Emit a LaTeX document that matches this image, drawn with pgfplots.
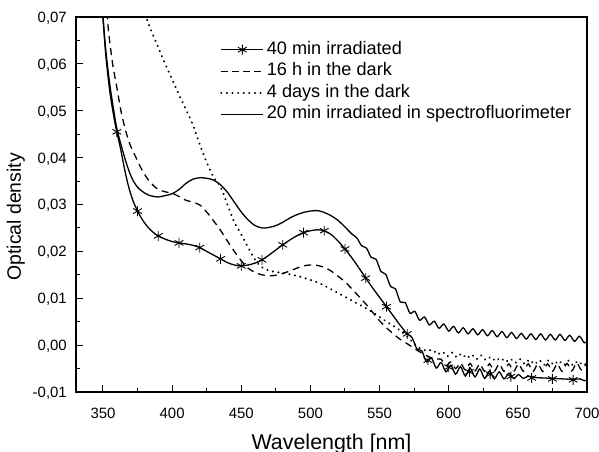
\documentclass[border=0pt]{standalone}
\usepackage{fontspec}
\setmainfont{Liberation Sans}
\usepackage{pgfplots}
\pgfplotsset{compat=1.18}
\begin{document}
\begin{tikzpicture}
\begin{axis}[
  scale only axis, width=511bp, height=375bp,
  xmin=330.5, xmax=700, ymin=-0.01, ymax=0.07,
  scaled y ticks=false, scaled x ticks=false,
  axis line style={line width=1.2bp},
  xtick={350,400,450,500,550,600,650,700},
  xticklabels={350,400,450,500,550,600,650,700},
  minor xtick={375,425,475,525,575,625,675},
  ytick={-0.01,0,0.01,0.02,0.03,0.04,0.05,0.06,0.07},
  yticklabels={{-0,01},{0,00},{0,01},{0,02},{0,03},{0,04},{0,05},{0,06},{0,07}},
  minor ytick={-0.005,0.005,0.015,0.025,0.035,0.045,0.055,0.065},
  tick align=inside, xtick pos=bottom, ytick pos=left,
  major tick length=7bp, minor tick length=4bp,
  every tick/.style={black, line width=1bp},
  tick label style={font=\fontsize{15}{18}\selectfont},
  xticklabel style={anchor=base, yshift=-26bp, inner sep=0pt},
  yticklabel style={anchor=base east, xshift=-9bp, yshift=-5.4bp, inner sep=0pt},
  xlabel={Wavelength [nm]}, ylabel={Optical density},
  xlabel style={font=\fontsize{21.5}{25}\selectfont, at={(rel axis cs:0.5,0)}, anchor=base, yshift=-57bp},
  ylabel style={font=\fontsize{19.5}{23}\selectfont, at={(rel axis cs:0,0.467)}, anchor=base, yshift=55bp},
  legend image code/.code={\draw[mark repeat=2,mark phase=2,#1] plot coordinates {(0bp,0bp) (21bp,0bp) (42bp,0bp)};},
  legend style={draw=none, fill=none, inner sep=0pt, at={(rel axis cs:0.2818,0.936)}, anchor=north west,
    font=\fontsize{18.2}{22}\selectfont, row sep=4.5bp,
    nodes={inner sep=0pt, text height=13bp, text depth=4bp},
    /tikz/every odd column/.append style={column sep=2.5bp}},
  legend cell align=left,
]
% 40 min irradiated (line)
\addplot[black, line width=1.3bp, smooth, tension=0.5, forget plot] table {
349.5 0.0720
352 0.0620
355 0.0540
358 0.0485
360 0.0455
363 0.0415
366 0.0370
369 0.0333
372 0.0306
375 0.0286
378 0.0270
381 0.0257
384 0.0247
387 0.0239
390 0.0233
395 0.0226
400 0.0221
405 0.0218
410 0.0216
415 0.0213
420 0.0208
425 0.0200
430 0.0192
435 0.0184
440 0.0176
445 0.0171
450 0.0169
455 0.0171
460 0.0175
465 0.0182
470 0.0192
475 0.0203
480 0.0214
485 0.0224
490 0.0233
495 0.0240
500 0.0244
505 0.0246
510 0.0244
515 0.0236
520 0.0222
525 0.0205
530 0.0186
535 0.0165
540 0.0143
545 0.0122
550 0.0102
555 0.0082
560 0.0062
565 0.0042
570 0.0024
573.5 0.0016
577 -0.0008
580.5 -0.0012
584 -0.0036
587.5 -0.0027
591 -0.0049
594.5 -0.0037
598 -0.0057
601.5 -0.0043
605 -0.0062
608.5 -0.0046
612 -0.0066
615.5 -0.0049
619 -0.0068
622.5 -0.0051
626 -0.0071
629.5 -0.0055
633 -0.0072
636.5 -0.0057
640 -0.0072
643.5 -0.0060
647 -0.0071
650.5 -0.0063
654 -0.0071
657.5 -0.0066
662 -0.0069
668 -0.0070
675 -0.0071
682 -0.0072
690 -0.0073
695 -0.0072
698 -0.0076
700 -0.0074
};
% 40 min irradiated (markers)
\addplot[black, only marks, mark=asterisk, mark size=5bp, mark options={line width=0.9bp}, forget plot] table {
360 0.0455
375 0.0286
390 0.0233
405 0.0218
420 0.0208
435 0.0184
450 0.0169
465 0.0182
480 0.0214
495 0.0240
510 0.0244
525 0.0205
540 0.0143
555 0.0082
570 0.0024
585 -0.0032
600 -0.0047
615 -0.0057
630 -0.0062
645 -0.0067
660 -0.0070
675 -0.0072
690 -0.0074
};
% 16 h in the dark
\addplot[black, line width=1.3bp, dash pattern=on 7bp off 5bp, smooth, tension=0.5, forget plot] table {
353 0.0710
354 0.0670
357 0.0600
360 0.0550
363 0.0500
366 0.0462
369 0.0432
372 0.0412
375 0.0393
378 0.0375
381 0.0360
384 0.0348
387 0.0339
390 0.0332
395 0.0327
400 0.0324
405 0.0317
410 0.0309
415 0.0305
420 0.0299
425 0.0284
430 0.0265
435 0.0245
440 0.0222
445 0.0200
450 0.0180
455 0.0164
460 0.0155
465 0.0150
470 0.0148
475 0.0149
480 0.0153
485 0.0158
490 0.0164
495 0.0169
500 0.0171
505 0.0170
510 0.0166
515 0.0158
520 0.0147
525 0.0135
530 0.0120
535 0.0104
540 0.0088
545 0.0070
550 0.0052
555 0.0037
560 0.0024
565 0.0012
570 0.0003
575 -0.0007
580 -0.0016
585 -0.0024
590 -0.0030
594.5 -0.0030
598 -0.0044
601.5 -0.0036
605 -0.0050
608.5 -0.0038
612 -0.0053
615.5 -0.0039
619 -0.0055
622.5 -0.0040
626 -0.0056
629.5 -0.0040
633 -0.0056
636.5 -0.0040
640 -0.0056
643.5 -0.0040
647 -0.0056
650.5 -0.0040
654 -0.0056
657.5 -0.0040
661 -0.0056
664.5 -0.0040
668 -0.0056
671.5 -0.0040
675 -0.0056
678.5 -0.0040
682 -0.0056
685.5 -0.0039
689 -0.0055
692.5 -0.0038
696 -0.0053
699.5 -0.0040
700 -0.0042
};
% 4 days in the dark
\addplot[black, line width=2.2bp, line cap=round, dash pattern=on 0.1bp off 5.5bp, smooth, tension=0.5, forget plot] table {
380.5 0.0705
385 0.0670
390 0.0635
395 0.0600
400 0.0567
405 0.0534
410 0.0503
415 0.0470
420 0.0428
425 0.0390
430 0.0358
435 0.0338
440 0.0300
445 0.0262
450 0.0236
455 0.0208
460 0.0182
465 0.0166
470 0.0159
475 0.0156
480 0.0154
485 0.0151
490 0.0148
495 0.0144
500 0.0139
505 0.0134
510 0.0127
515 0.0119
520 0.0111
525 0.0103
530 0.0095
535 0.0087
540 0.0079
545 0.0070
550 0.0060
555 0.0050
560 0.0041
565 0.0031
570 0.0018
575 0.0003
580 -0.0008
585 -0.0012
588.5 -0.0010
592 -0.0020
595.5 -0.0014
599 -0.0024
602.5 -0.0016
606 -0.0026
609.5 -0.0018
613 -0.0028
616.5 -0.0020
620 -0.0030
623.5 -0.0022
627 -0.0032
630.5 -0.0025
634 -0.0034
637.5 -0.0027
641 -0.0036
644.5 -0.0029
648 -0.0038
651.5 -0.0030
655 -0.0040
658.5 -0.0031
662 -0.0041
665.5 -0.0032
669 -0.0042
672.5 -0.0032
676 -0.0042
679.5 -0.0033
683 -0.0043
686.5 -0.0033
690 -0.0043
693.5 -0.0034
697 -0.0043
700 -0.0038
};
% 20 min irradiated in spectrofluorimeter
\addplot[black, line width=1.3bp, smooth, tension=0.5, forget plot] table {
349.5 0.0720
352 0.0630
355 0.0555
358 0.0497
360 0.0462
363 0.0428
366 0.0397
369 0.0370
372 0.0350
375 0.0337
378 0.0329
381 0.0323
384 0.0319
387 0.0317
390 0.0316
395 0.0319
400 0.0323
405 0.0332
410 0.0345
415 0.0354
420 0.0357
425 0.0356
430 0.0352
435 0.0342
440 0.0326
445 0.0305
450 0.0284
455 0.0267
460 0.0255
465 0.0250
470 0.0251
475 0.0255
480 0.0262
485 0.0271
490 0.0278
495 0.0283
500 0.0286
505 0.0287
510 0.0283
515 0.0276
520 0.0266
525 0.0252
530 0.0237
533.5 0.0229
537 0.0212
540.5 0.0207
544 0.0187
547.5 0.0183
551 0.0157
554.5 0.0151
558 0.0125
561.5 0.0120
565 0.0092
568.5 0.0091
572 0.0068
575.5 0.0072
579 0.0053
582.5 0.0060
586 0.0043
589.5 0.0051
593 0.0036
596.5 0.0045
600 0.0030
603.5 0.0040
607 0.0026
610.5 0.0037
614 0.0024
617.5 0.0035
621 0.0022
624.5 0.0033
628 0.0020
631.5 0.0031
635 0.0018
638.5 0.0029
642 0.0016
645.5 0.0027
649 0.0014
652.5 0.0025
656 0.0013
659.5 0.0024
663 0.0012
666.5 0.0024
670 0.0011
673.5 0.0023
677 0.0011
680.5 0.0023
684 0.0010
687.5 0.0021
691 0.0008
694.5 0.0019
698 0.0005
700 0.0008
};
\addlegendimage{black, line width=1.3bp, mark=asterisk, mark size=5bp, mark options={line width=0.9bp}}
\addlegendentry{40 min irradiated}
\addlegendimage{black, line width=1.3bp, dash pattern=on 7bp off 4bp}
\addlegendentry{16 h in the dark}
\addlegendimage{black, line width=2.2bp, line cap=round, dash pattern=on 0.1bp off 5.5bp}
\addlegendentry{4 days in the dark}
\addlegendimage{black, line width=1.3bp}
\addlegendentry{20 min irradiated in spectrofluorimeter}
\end{axis}
\pgfresetboundingbox
\path[use as bounding box] ([shift={(-76bp,-60bp)}]current axis.south west) rectangle ([shift={(12bp,17bp)}]current axis.north east);
\end{tikzpicture}
\end{document}
